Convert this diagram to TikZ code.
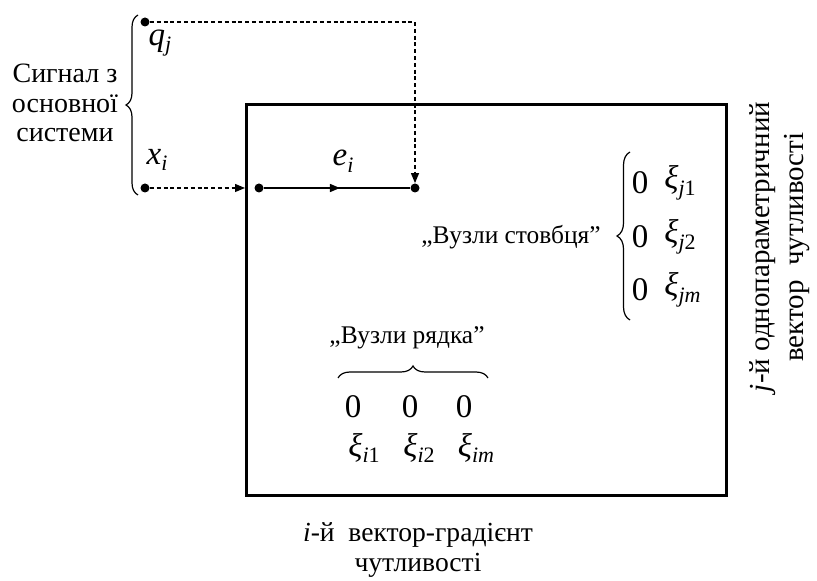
\documentclass[tikz,border=0pt]{standalone}
\usepackage{fontspec}
\setmainfont{LiberationSerif}[Extension=.ttf, UprightFont=*-Regular, ItalicFont=*-Italic, BoldFont=*-Bold, BoldItalicFont=*-BoldItalic]
\usetikzlibrary{arrows.meta,decorations.pathreplacing,decorations.markings}
\newcommand\mysb[2]{#1\raisebox{-0.45ex}{\fontsize{11}{11}\selectfont #2}}
\begin{document}
\begin{tikzpicture}[x=0.5pt,y=-0.5pt,
  txt/.style={font=\rmfamily\fontsize{12.7}{12.7}\selectfont, inner sep=0pt},
  mth/.style={font=\rmfamily\fontsize{16.5}{16.5}\selectfont, inner sep=0pt},
  dotnode/.style={circle, fill=black, inner sep=0pt, minimum size=4.5pt},
  dashline/.style={line width=0.6pt, dash pattern=on 2pt off 1.4pt},
  tip/.style={-{Triangle[length=5pt,width=4pt]}},
  bracestyle/.style={decorate, decoration={brace, amplitude=6pt}, line width=0.6pt}]
\useasboundingbox (0,0) rectangle (817,581);
% box
\node (box) [draw, line width=1.5pt, minimum width=240pt, minimum height=195.5pt, anchor=north west, inner sep=0pt] at (245,103) {};
% dots
\node (qj) [dotnode] at (145,22) {};
\node (xi) [dotnode] at (145,188) {};
\node (es) [dotnode] at (259,188) {};
\node (ee) [dotnode] at (415,188) {};
\coordinate (xin) at (box.west |- xi);
% connectors
\draw[dashline, tip] (qj) -| (ee);
\draw[dashline, tip] (xi) -- (xin);
\draw[line width=0.8pt, postaction={decorate}, decoration={markings, mark=at position 0.52 with {\arrow{Triangle[length=5pt,width=4pt]}}}] (es) -- (ee);
% labels
\node (sig) [txt, align=center, font=\rmfamily\fontsize{14}{14.75}\selectfont] at (65,103) {Сигнал з\\основної\\системи};
\node (lq) [mth] at (160,43) {\mysb{\itshape q}{\itshape j}};
\node (lx) [mth] at (157,160) {\mysb{\itshape x}{\itshape i}};
\node (le) [mth] at (343,161) {\mysb{\itshape e}{\itshape i}};
\coordinate (lb1) at (138,195);
\coordinate (lb2) at (138,15);
\draw[bracestyle] (lb1) -- (lb2);
% column nodes
\node (col) [txt] at (511,237) {„Вузли стовбця”};
\coordinate (rb1) at (630,320);
\coordinate (rb2) at (630,152);
\draw[bracestyle, decoration={brace, amplitude=6.5pt}] (rb1) -- (rb2);
\node (c1z) [mth] at (640,183) {0};
\node (c2z) [mth] at (640,237) {0};
\node (c3z) [mth] at (640,290) {0};
\node (c1x) [mth, anchor=west] at (664,183) {\mysb{\itshape ξ}{\itshape j\upshape 1}};
\node (c2x) [mth, anchor=west] at (664,237) {\mysb{\itshape ξ}{\itshape j\upshape 2}};
\node (c3x) [mth, anchor=west] at (664,290) {\mysb{\itshape ξ}{\itshape jm}};
% row nodes
\node (row) [txt] at (407,338) {„Вузли рядка”};
\coordinate (ob1) at (338,378);
\coordinate (ob2) at (488,378);
\draw[bracestyle] (ob1) -- (ob2);
\node (r1z) [mth] at (353,407) {0};
\node (r2z) [mth] at (410,407) {0};
\node (r3z) [mth] at (464,407) {0};
\node (r1x) [mth] at (364,448) {\mysb{\itshape ξ}{\itshape i\upshape 1}};
\node (r2x) [mth] at (419,448) {\mysb{\itshape ξ}{\itshape i\upshape 2}};
\node (r3x) [mth] at (476,448) {\mysb{\itshape ξ}{\itshape im}};
% captions
\node (bot) [txt, align=center, font=\rmfamily\fontsize{13.8}{15}\selectfont] at (418,550) {{\itshape i}-й\ \ вектор-градієнт\\чутливості};
\node (side) [txt, align=center, rotate=90, font=\rmfamily\fontsize{14.5}{17}\selectfont] at (780,247) {{\itshape j}-й\ однопараметричний\\вектор\ \ чутливості};
\end{tikzpicture}
\end{document}
